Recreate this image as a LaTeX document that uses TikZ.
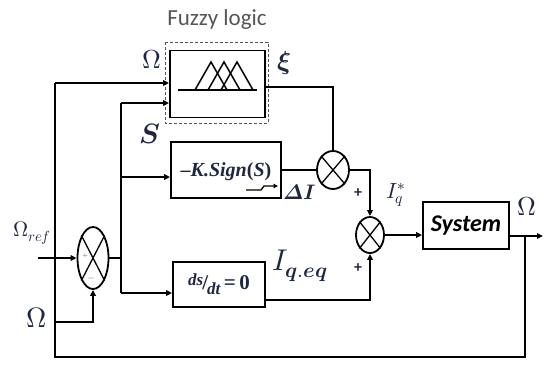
\documentclass[tikz,border=0pt]{standalone}
\usepackage{fontspec}
\usepackage{unicode-math}
\setmathfont{Latin Modern Math}
\usetikzlibrary{arrows.meta,shapes.geometric,calc}
\newfontfamily\carl{Carlito}
\newfontfamily\tms{Liberation Serif}
\definecolor{labc}{RGB}{30,38,66}
\definecolor{fuzc}{RGB}{85,85,85}
\tikzset{
  wire/.style={line width=1.8pt,black},
  arr/.style={wire,-{Triangle[length=6pt,width=5.5pt]}},
  blk/.style={draw,line width=1.8pt,rectangle,inner sep=0pt},
  mult/.style={draw,line width=1.8pt,ellipse,inner sep=0pt},
  lab/.style={inner sep=0pt,text=labc},
}
\newcommand{\fs}[1]{\fontsize{#1}{#1}\selectfont}
\newcommand{\xcross}[1]{\draw[line width=1.3pt] (#1.north east) -- (#1.south west) (#1.north west) -- (#1.south east);}
\begin{document}
\begin{tikzpicture}[x=1pt,y=-1pt]
\useasboundingbox (0,0) rectangle (544,365);
% blocks
\node[blk,minimum width=95pt,minimum height=67pt] (fz) at (217.5,84) {};
\draw[line width=1pt,fuzc,dash pattern=on 3pt off 2pt] (165,42) rectangle (268,123);
\node[blk,minimum width=110pt,minimum height=56pt] (sg) at (226,170) {};
\node[blk,minimum width=92pt,minimum height=45pt] (ds) at (219,284.5) {};
\node[blk,minimum width=86pt,minimum height=47pt] (sys) at (466,225.5) {\carl\bfseries\itshape\fs{24}System};
\node[mult,minimum width=32pt,minimum height=38pt] (m1) at (333,170) {};
\node[mult,minimum width=28pt,minimum height=36pt] (m2) at (370,235) {};
\node[mult,minimum width=31pt,minimum height=62pt] (lm) at (93,258) {};
\xcross{m1}\xcross{m2}\xcross{lm}
% membership functions
\draw[line width=1.5pt] (178,90) -- (257,90);
\foreach \p in {211,224,237}{\draw[line width=1.5pt,line join=miter] (\p-16,90) -- (\p,62) -- (\p+16,90);}
% block texts
\node[lab] (sgt) at (226,172) {\tms\bfseries\fs{20}\textendash\textit{K.Sign}(\textit{S})};
\draw[line width=1.3pt,-{Triangle[length=4.5pt,width=4.5pt]}] (246,190) -- (261,190) -- (264,186) -- (278,186);
\node[lab] (dst) at (219,284) {\tms\bfseries\fs{21}\raisebox{4.5pt}{\fs{17}\itshape ds}\kern-1pt/\kern-1pt\raisebox{-4.5pt}{\fs{17}\itshape dt}\,=\,0};
% coordinates
\coordinate (in) at (38,258);
\coordinate (b0) at (121,258);
\coordinate (b1) at (121,103);
\coordinate (b2) at (121,177);
\coordinate (b3) at (121,293);
\coordinate (o1) at (55,83);
\coordinate (o2) at (55,322);
\coordinate (o3) at (55,357);
\coordinate (o4) at (525,357);
\coordinate (o5) at (525,236);
\coordinate (oe) at (543,236);
\coordinate (dsout) at ($(ds.south east)+(0,-8)$);
% wires
\draw[arr] (in) -- (lm.west);
\draw[wire] (lm.east) -- (b0);
\draw[wire] (b1) -- (b3);
\draw[arr] (b1) -- (b1 -| fz.west);
\draw[arr] (b2) -- (b2 -| sg.west);
\draw[arr] (b3) -- (b3 -| ds.west);
\draw[arr] (o1) -- (o1 -| fz.west);
\draw[wire] (o1) -- (o3) -- (o4) -- (o5);
\draw[arr] (o2) -| (lm.south);
\draw[wire] ($(fz.east)+(0,3)$) -| (m1.north);
\draw[wire] (sg.east) -- (m1.west);
\draw[arr] (m1.east) -| (m2.north);
\draw[arr] (dsout) -| (m2.south);
\draw[arr] (m2.east) -- (m2.east -| sys.west);
\draw[arr] (o5 -| sys.east) -- (oe);
% labels
\node[lab,text=fuzc] (fl) at (217,19) {\carl\fs{23}Fuzzy logic};
\node[lab] (l1) at (152,59) {\fs{26}$\Omega$};
\node[lab] (l2) at (284,63) {\fs{26}$\symbfit{\xi}$};
\node[lab] (l3) at (150,134) {\fs{28}$\symbfit{S}$};
\node[lab,anchor=west] (l4) at (283,192) {\fs{21}$\symbfit{\Delta I}$};
\node[lab] (l5) at (358,193) {\carl\bfseries\fs{16}+};
\node[lab] (l6) at (358,268) {\carl\bfseries\fs{16}+};
\node[lab] (l7) at (396,195) {\fs{22}$I_q^{*}$};
\node[lab] (l8) at (300,266) {\fs{30}$I_{\symbfit{q.eq}}$};
\node[lab] (l9) at (527,206) {\fs{26}$\Omega$};
\node[lab] (l10) at (32,233) {\fs{21}$\Omega_{ref}$};
\node[lab] (l11) at (37,318) {\fs{28}$\Omega$};
\node[lab] (l12) at (85,256) {\fs{7}$+$};
\node[lab] (l13) at (92,279) {\fs{8}$-$};
\end{tikzpicture}
\end{document}
